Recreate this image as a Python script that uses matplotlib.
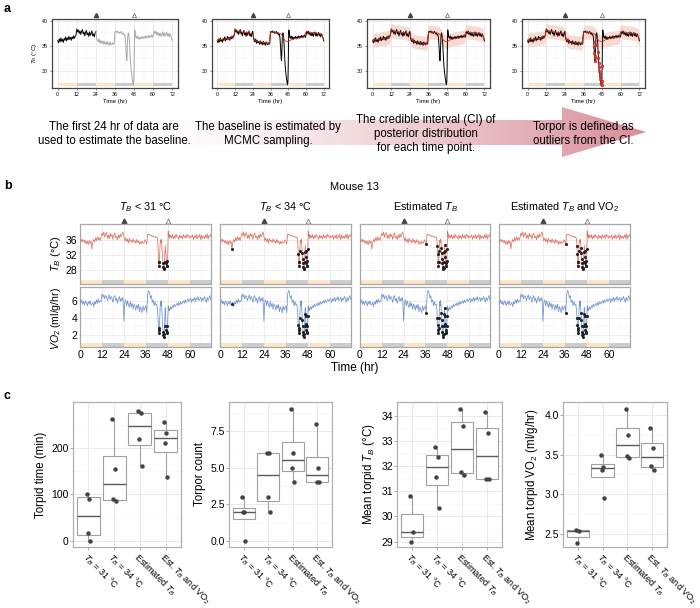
import numpy as np
import matplotlib
matplotlib.use("Agg")
import matplotlib.pyplot as plt
from matplotlib.patches import Polygon
from matplotlib.colors import to_rgb

plt.rcParams['font.family'] = ['Liberation Sans', 'DejaVu Sans']
plt.rcParams['mathtext.fontset'] = 'custom'
plt.rcParams['mathtext.rm'] = 'Liberation Sans'
plt.rcParams['mathtext.it'] = 'Liberation Sans:italic'
plt.rcParams['mathtext.bf'] = 'Liberation Sans:bold'

# ---------------- data ----------------
# panel a: one mouse, body temperature; segments 0-41.5 h (0.5 h), 42-48.8 h (0.2 h), 49-72 h (0.5 h)
ta_seg1 = [36.0, 35.6, 36.4, 35.8, 36.6, 35.9, 36.3, 35.7, 36.5, 36.1, 36.8, 36.0,
           36.6, 36.2, 36.9, 36.3, 36.7, 36.1, 36.8, 36.4, 37.0, 36.5, 36.9, 37.2,
           38.4, 37.8, 38.2, 37.5, 38.0, 37.3, 37.9, 38.3, 37.4, 37.8, 37.0, 37.7,
           38.1, 37.2, 37.6, 36.9, 37.8, 37.1, 37.5, 38.0, 37.0, 37.4, 36.8, 37.6,
           37.9, 36.5, 36.0, 35.8, 36.4, 35.5, 36.1, 35.6, 35.9, 35.3, 36.0, 35.4,
           35.7, 35.2, 35.9, 35.3, 35.6, 35.1, 35.8, 35.4, 35.2, 35.6, 35.3, 35.5,
           37.8, 37.9, 37.7, 38.0, 37.6, 37.8, 37.5, 37.7, 37.9, 37.4, 37.6, 37.2]
ta_seg2 = [37.3, 37.0, 36.6, 35.8, 34.8, 33.5, 32.6, 32.0, 33.0, 35.2, 36.8, 37.4,
           37.6, 37.3, 37.0, 36.2, 35.0, 33.8, 32.6, 31.6, 30.7, 30.0, 29.4, 28.9,
           28.4, 28.0, 27.6, 27.3, 27.2, 28.0, 31.0, 35.5, 38.2, 37.8, 37.2]
ta_seg3 = [36.8, 36.5, 37.0, 36.4, 36.8, 36.3, 36.7, 36.5, 36.9, 36.4, 36.8, 36.6,
           37.0, 36.5, 36.9, 36.7, 37.1, 36.6, 37.0, 36.8, 37.2, 36.7, 37.1, 37.9,
           37.5, 38.0, 37.3, 37.7, 37.1, 37.6, 37.0, 37.5, 36.9, 37.4, 37.8, 37.0,
           37.6, 36.9, 37.3, 37.7, 37.0, 37.5, 36.8, 37.4, 37.1, 36.6, 36.0]
# hourly baseline (0..72 h) and credible-interval half width
ta_baseline = [36.2, 36.1, 36.3, 36.2, 36.4, 36.3, 36.5, 36.4, 36.5, 36.6, 36.6, 36.7,
               38.2, 38.0, 37.9, 37.8, 37.9, 37.7, 37.8, 37.6, 37.7, 37.5, 37.6, 37.4,
               37.2, 36.4, 36.0, 35.9, 35.8, 35.7, 35.8, 35.6, 35.7, 35.5, 35.6, 35.5,
               37.6, 37.8, 37.7, 37.8, 37.6, 37.7, 37.5, 37.4, 37.0, 36.4, 36.0, 35.9,
               35.8, 36.0, 36.2, 36.3, 36.4, 36.5, 36.5, 36.6, 36.6, 36.7, 36.7, 36.8,
               37.8, 37.9, 37.7, 37.8, 37.6, 37.7, 37.5, 37.6, 37.4, 37.5, 37.3, 37.0, 36.3]
ci_half = 1.4

# panel b: mouse 13, T_B and VO2
tb_seg1 = [36.0, 35.5, 36.3, 35.6, 36.1, 35.3, 35.9, 35.0, 35.7, 34.8, 35.9, 35.1,
           35.8, 33.6, 35.4, 36.2, 35.5, 36.6, 35.8, 36.9, 36.0, 36.7, 35.9, 36.8,
           37.9, 37.2, 38.2, 36.8, 37.6, 38.0, 36.5, 37.4, 36.3, 37.8, 36.9, 37.5,
           36.2, 37.3, 37.9, 36.6, 37.0, 36.1, 37.4, 36.5, 37.7, 36.8, 37.6, 38.2,
           37.0, 35.8, 36.6, 35.6, 36.3, 35.2, 36.5, 35.7, 36.0, 35.3, 36.4, 35.5,
           35.9, 35.1, 36.2, 35.4, 35.8, 34.9, 35.6, 35.0, 35.7, 35.2, 35.3, 36.1,
           35.6, 34.9, 37.6, 37.4, 37.5, 37.2, 37.3, 37.0, 37.1, 36.8, 37.0, 36.7]
tb_seg2 = [36.8, 36.5, 36.0, 34.5, 32.4, 30.3, 29.0, 30.1, 33.0, 35.2, 36.0, 35.4,
           36.2, 35.6, 34.0, 32.5, 31.0, 29.8, 28.9, 28.3, 28.6, 30.2, 32.8, 34.6,
           33.2, 31.5, 30.0, 29.2, 29.0, 30.5, 33.5, 38.4, 37.8, 37.0, 37.5]
tb_seg3 = [36.4, 37.3, 36.6, 37.5, 36.3, 37.2, 36.5, 37.6, 36.8, 37.0, 36.2, 37.4,
           36.6, 37.1, 36.3, 37.5, 36.7, 37.2, 36.4, 37.6, 36.9, 37.3, 36.5, 37.0,
           36.8, 37.4, 36.2, 37.1, 36.6, 37.5, 36.3, 37.2, 36.7, 37.6, 36.1, 37.3,
           36.5, 37.0, 36.4, 37.4, 36.6, 37.7, 36.2, 37.3, 36.8, 37.5, 37.9]
vo_seg1 = [6.0, 5.7, 6.1, 5.6, 5.9, 5.5, 6.0, 5.8, 5.4, 5.9, 5.6, 6.0,
           5.5, 5.6, 5.8, 5.3, 5.9, 5.6, 6.1, 5.7, 6.2, 5.8, 6.0, 5.9,
           6.8, 6.4, 6.7, 6.2, 6.6, 6.5, 6.0, 6.4, 6.7, 6.1, 6.5, 6.3,
           5.8, 6.4, 6.6, 6.0, 6.3, 5.7, 6.2, 6.5, 5.9, 6.3, 6.0, 6.4,
           3.6, 5.8, 6.1, 5.4, 6.0, 5.5, 5.2, 5.9, 5.3, 5.7, 5.0, 5.6,
           5.4, 4.9, 5.5, 5.1, 5.6, 4.7, 5.3, 5.0, 4.6, 5.4, 4.9, 5.2,
           5.4, 4.6, 6.8, 7.2, 6.9, 6.3, 6.6, 5.8, 6.1, 5.4, 5.9, 5.5]
vo_seg2 = [5.6, 5.2, 4.8, 4.0, 3.2, 2.6, 2.2, 2.8, 4.0, 5.2, 5.9, 5.4,
           6.0, 5.5, 4.6, 3.8, 3.0, 2.4, 2.0, 1.8, 2.1, 3.0, 4.4, 5.2,
           4.2, 3.3, 2.6, 2.2, 2.4, 3.0, 4.2, 5.4, 5.0, 4.8, 5.1]
vo_seg3 = [4.9, 5.3, 5.0, 5.4, 5.2, 5.6, 5.3, 5.5, 5.7, 5.4, 5.8, 5.5,
           5.9, 5.6, 5.8, 6.0, 5.7, 6.1, 5.8, 6.0, 6.2, 5.9, 6.1, 6.3,
           5.8, 6.2, 6.0, 6.4, 5.9, 6.3, 6.1, 6.5, 6.0, 6.2, 6.4, 5.9,
           6.3, 6.1, 6.5, 6.2, 5.8, 6.4, 6.0, 6.3, 6.6, 6.1, 6.5]
method_titles = ['$T_B$ < 31 °C', '$T_B$ < 34 °C', 'Estimated $T_B$', 'Estimated $T_B$ and VO$_2$']
est_window = (36.2, 48.5)

# panel c: per-mouse summaries for each method
cat_labels = ['$T_B$ = 31 °C', '$T_B$ = 34 °C', 'Estimated $T_B$', 'Est. $T_B$ and VO$_2$']
torpid_time = [[102, 91, 17, 0], [262, 155, 90, 85], [280, 275, 220, 162], [257, 233, 210, 138]]
torpor_count = [[3, 2, 2, 0], [6, 6, 3, 2], [9, 6, 5, 4], [8, 5, 4, 4]]
mean_tb = [[30.8, 29.4, 29.0], [32.75, 32.35, 31.55, 30.35],
           [34.25, 33.6, 31.75, 31.65], [34.15, 33.3, 31.5, 31.5]]
mean_vo2 = [[2.55, 2.53, 2.38], [3.5, 3.34, 3.31, 2.95],
            [4.08, 3.75, 3.48, 3.46], [3.83, 3.58, 3.36, 3.31]]

# ---------------- figure ----------------
W, H = 700, 608
fig = plt.figure(figsize=(7, 6.08), dpi=100)


def px_axes(x0, y0, x1, y1, **kw):
    return fig.add_axes([x0 / W, 1 - y1 / H, (x1 - x0) / W, (y1 - y0) / H], **kw)


def make_time(v1, v2, v3):
    return np.concatenate([np.linspace(0, 41.5, len(v1)),
                           np.linspace(42, 48.8, len(v2)),
                           np.linspace(49, 72, len(v3))])


def light_dark(ax, y0, y1):
    for k, s in enumerate(range(0, 72, 12)):
        c = '#fce6c6' if k % 2 == 0 else '#cdcdcd'
        ax.axvspan(s, s + 12, ymin=y0, ymax=y1, color=c, lw=0, zorder=1)


def triangles(ax, yfrac, ms):
    tr = ax.get_xaxis_transform()
    ax.plot([24], [yfrac], marker='^', ms=ms, color='#444444', transform=tr, clip_on=False)
    ax.plot([48], [yfrac], marker='^', ms=ms, mfc='white', mec='#666666', mew=0.5,
            transform=tr, clip_on=False)


# background layer: gradient arrow + explanatory text
bg = px_axes(0, 0, W, H, zorder=-5)
arrow_xy = [(150, 120), (562, 120), (562, 107), (646, 132), (562, 157), (562, 145), (150, 145)]
poly = Polygon(arrow_xy, closed=True, facecolor='none', edgecolor='none')
bg.add_patch(poly)
grad = np.zeros((2, 256, 4))
grad[..., :3] = to_rgb('#d27d89')
grad[..., 3] = np.linspace(0, 0.9, 256) ** 1.3
im = bg.imshow(grad, extent=(150, 646, 157, 107), aspect='auto', interpolation='bilinear')
im.set_clip_path(poly)
bg.set_xlim(0, W)
bg.set_ylim(H, 0)
bg.axis('off')

notes = [(114, 134, "The first 24 hr of data are\nused to estimate the baseline."),
         (268, 134, "The baseline is estimated by\nMCMC sampling."),
         (426, 134, "The credible interval (CI) of\nposterior distribution\nfor each time point."),
         (583, 134, "Torpor is defined as\noutliers from the CI.")]
for x, y, s in notes:
    bg.text(x, y, s, ha='center', va='center', fontsize=8.3, linespacing=1.2)

for lab, y in [('a', 9), ('b', 186), ('c', 396)]:
    bg.text(4, y, lab, fontsize=9, fontweight='bold', ha='left', va='center')

# ---------------- panel a ----------------
ta = np.array(ta_seg1 + ta_seg2 + ta_seg3)
t_a = make_time(ta_seg1, ta_seg2, ta_seg3)
base_t = np.arange(len(ta_baseline))
base = np.array(ta_baseline)
base_on_t = np.interp(t_a, base_t, base)
outlier = ta < base_on_t - ci_half

a_boxes = [(52, 19, 178, 88), (212, 19, 329, 88), (367, 19, 490, 88), (522, 19, 645, 88)]
for i, box in enumerate(a_boxes):
    ax = px_axes(*box)
    ax.set_xlim(-3.6, 75.6)
    ax.set_ylim(26.5, 40.4)
    ax.set_xticks(range(0, 73, 12))
    ax.set_yticks([30, 35, 40])
    ax.set_xticks(range(6, 73, 12), minor=True)
    ax.set_yticks([27.5, 32.5, 37.5], minor=True)
    ax.grid(True, which='major', color='#e3e3e3', lw=0.5)
    ax.grid(True, which='minor', color='#f1f1f1', lw=0.3)
    ax.set_axisbelow(True)
    ax.tick_params(labelsize=3.8, length=1.5, width=0.4, pad=1.5, color='#333333')
    ax.tick_params(which='minor', length=0)
    for sp in ax.spines.values():
        sp.set_color('#444444')
        sp.set_linewidth(0.9)
    ax.set_xlabel('Time (hr)', fontsize=4.3, labelpad=1)
    if i == 0:
        ax.set_ylabel('$T_B$ (°C)', fontsize=4.5, labelpad=2)
    light_dark(ax, 0.03, 0.07)
    triangles(ax, 1.065, 3)
    if i == 0:
        m = t_a <= 24
        ax.plot(t_a[m], ta[m], color='black', lw=0.7, zorder=3)
        ax.plot(t_a[t_a >= 24], ta[t_a >= 24], color='#a9a9a9', lw=0.7, zorder=3)
        continue
    if i >= 2:
        ax.fill_between(base_t, base - ci_half, base + ci_half, color='#f3cdbf', alpha=0.7,
                        lw=0, zorder=2)
    ax.plot(t_a, ta, color='black', lw=0.7, zorder=3)
    ax.plot(base_t, base, color='#d7301f', lw=0.6, zorder=4)
    if i == 3:
        ax.plot(t_a[outlier], ta[outlier], 'o', ms=2.0, mfc='#e0483a', mec='#a01818',
                mew=0.3, zorder=5)

# ---------------- panel b ----------------
tb = np.array(tb_seg1 + tb_seg2 + tb_seg3)
vo = np.array(vo_seg1 + vo_seg2 + vo_seg3)
t_b = make_time(tb_seg1, tb_seg2, tb_seg3)
in_win = (t_b > est_window[0]) & (t_b < est_window[1])
masks = [tb < 31, tb < 34, (tb < 35.2) & in_win, (tb < 35.2) & in_win & (vo < 5.0)]

cols = [(80, 211), (220, 351), (360, 490), (499, 630)]
for j, (x0, x1) in enumerate(cols):
    for r, (y0, y1) in enumerate([(224, 284), (287, 347)]):
        ax = px_axes(x0, y0, x1, y1)
        series = tb if r == 0 else vo
        color = '#dc7565' if r == 0 else '#7094cf'
        ax.plot(t_b, series, color=color, lw=0.55, zorder=3)
        ax.plot(t_b[masks[j]], series[masks[j]], 'o', ms=1.2, color='#222222', zorder=4)
        ax.set_xlim(0, 71.6)
        if r == 0:
            ax.set_ylim(24.3, 40.3)
            ax.set_yticks([28, 32, 36])
            ax.set_yticks([30, 34, 38], minor=True)
        else:
            ax.set_ylim(0.6, 7.6)
            ax.set_yticks([2, 4, 6])
            ax.set_yticks([3, 5, 7], minor=True)
        ax.set_xticks(range(0, 61, 12))
        ax.set_xticks(range(6, 72, 12), minor=True)
        ax.grid(True, which='major', color='#e6e6e6', lw=0.5)
        ax.grid(True, which='minor', color='#f3f3f3', lw=0.3)
        ax.set_axisbelow(True)
        light_dark(ax, 0.0, 0.06)
        for sp in ax.spines.values():
            sp.set_color('#a8a8a8')
            sp.set_linewidth(0.9)
        ax.tick_params(labelsize=7.5, length=0, pad=2)
        ax.tick_params(which='minor', length=0)
        if j > 0:
            ax.set_yticklabels([])
        if r == 0:
            ax.set_xticklabels([])
            triangles(ax, 1.05, 3.5)
            ax.set_title(method_titles[j], fontsize=7.8, pad=10)

fig.text(355 / W, 1 - 187 / H, 'Mouse 13', ha='center', va='center', fontsize=8)
fig.text(355 / W, 1 - 368 / H, 'Time (hr)', ha='center', va='center', fontsize=8.5)
fig.text(56 / W, 1 - 254 / H, '$T_B$ (°C)', ha='center', va='center', rotation=90, fontsize=8)
fig.text(56 / W, 1 - 319 / H, '$VO_2$ (ml/g/hr)', ha='center', va='center', rotation=90,
         fontsize=7.6)

# ---------------- panel c ----------------
c_specs = [
    ((73, 402, 181, 547), torpid_time, 'Torpid time (min)', (-13, 299), [0, 100, 200],
     ['0', '100', '200'], [50, 150, 250]),
    ((229, 402, 332, 547), torpor_count, 'Torpor count', (-0.4, 9.48), [0, 2.5, 5, 7.5],
     ['0.0', '2.5', '5.0', '7.5'], [1.25, 3.75, 6.25, 8.75]),
    ((397, 402, 502, 547), mean_tb, 'Mean torpid $T_B$ (°C)', (28.79, 34.54),
     [29, 30, 31, 32, 33, 34], ['29', '30', '31', '32', '33', '34'],
     [29.5, 30.5, 31.5, 32.5, 33.5]),
    ((563, 402, 667, 547), mean_vo2, 'Mean torpid VO$_2$ (ml/g/hr)', (2.33, 4.165),
     [2.5, 3.0, 3.5, 4.0], ['2.5', '3.0', '3.5', '4.0'], [2.75, 3.25, 3.75]),
]
jitter = [-0.07, 0.03, -0.03, 0.07]
for box, data, ylab, ylim, yt, ytl, ymin in c_specs:
    ax = px_axes(*box)
    ax.boxplot(data, positions=[1, 2, 3, 4], widths=0.9, whis=1.5, showfliers=False,
               patch_artist=True,
               boxprops=dict(facecolor='white', edgecolor='#a0a0a0', lw=0.8),
               medianprops=dict(color='#5a5a5a', lw=1.0),
               whiskerprops=dict(color='#a0a0a0', lw=0.8),
               capprops=dict(lw=0), zorder=2)
    for k, vals in enumerate(data):
        xs = [k + 1 + jitter[n % 4] for n in range(len(vals))]
        ax.plot(xs, vals, 'o', ms=2.2, color='#444444', zorder=4)
    ax.set_xlim(0.4, 4.6)
    ax.set_ylim(*ylim)
    ax.set_yticks(yt)
    ax.set_yticklabels(ytl)
    ax.set_yticks(ymin, minor=True)
    ax.set_xticks([1, 2, 3, 4])
    ax.set_xticklabels(cat_labels, rotation=-45, ha='left', va='top', rotation_mode='anchor',
                       fontsize=6.6)
    ax.grid(True, which='major', color='#e6e6e6', lw=0.6)
    ax.grid(True, which='minor', axis='y', color='#f3f3f3', lw=0.4)
    ax.set_axisbelow(True)
    for sp in ax.spines.values():
        sp.set_color('#b0b0b0')
        sp.set_linewidth(0.9)
    ax.tick_params(axis='y', labelsize=7.5)
    ax.tick_params(length=2, width=0.5, color='#888888', pad=1)
    ax.tick_params(which='minor', length=0)
    ax.set_ylabel(ylab, fontsize=8.3, labelpad=3)

fig.savefig('out.png', dpi=100)
